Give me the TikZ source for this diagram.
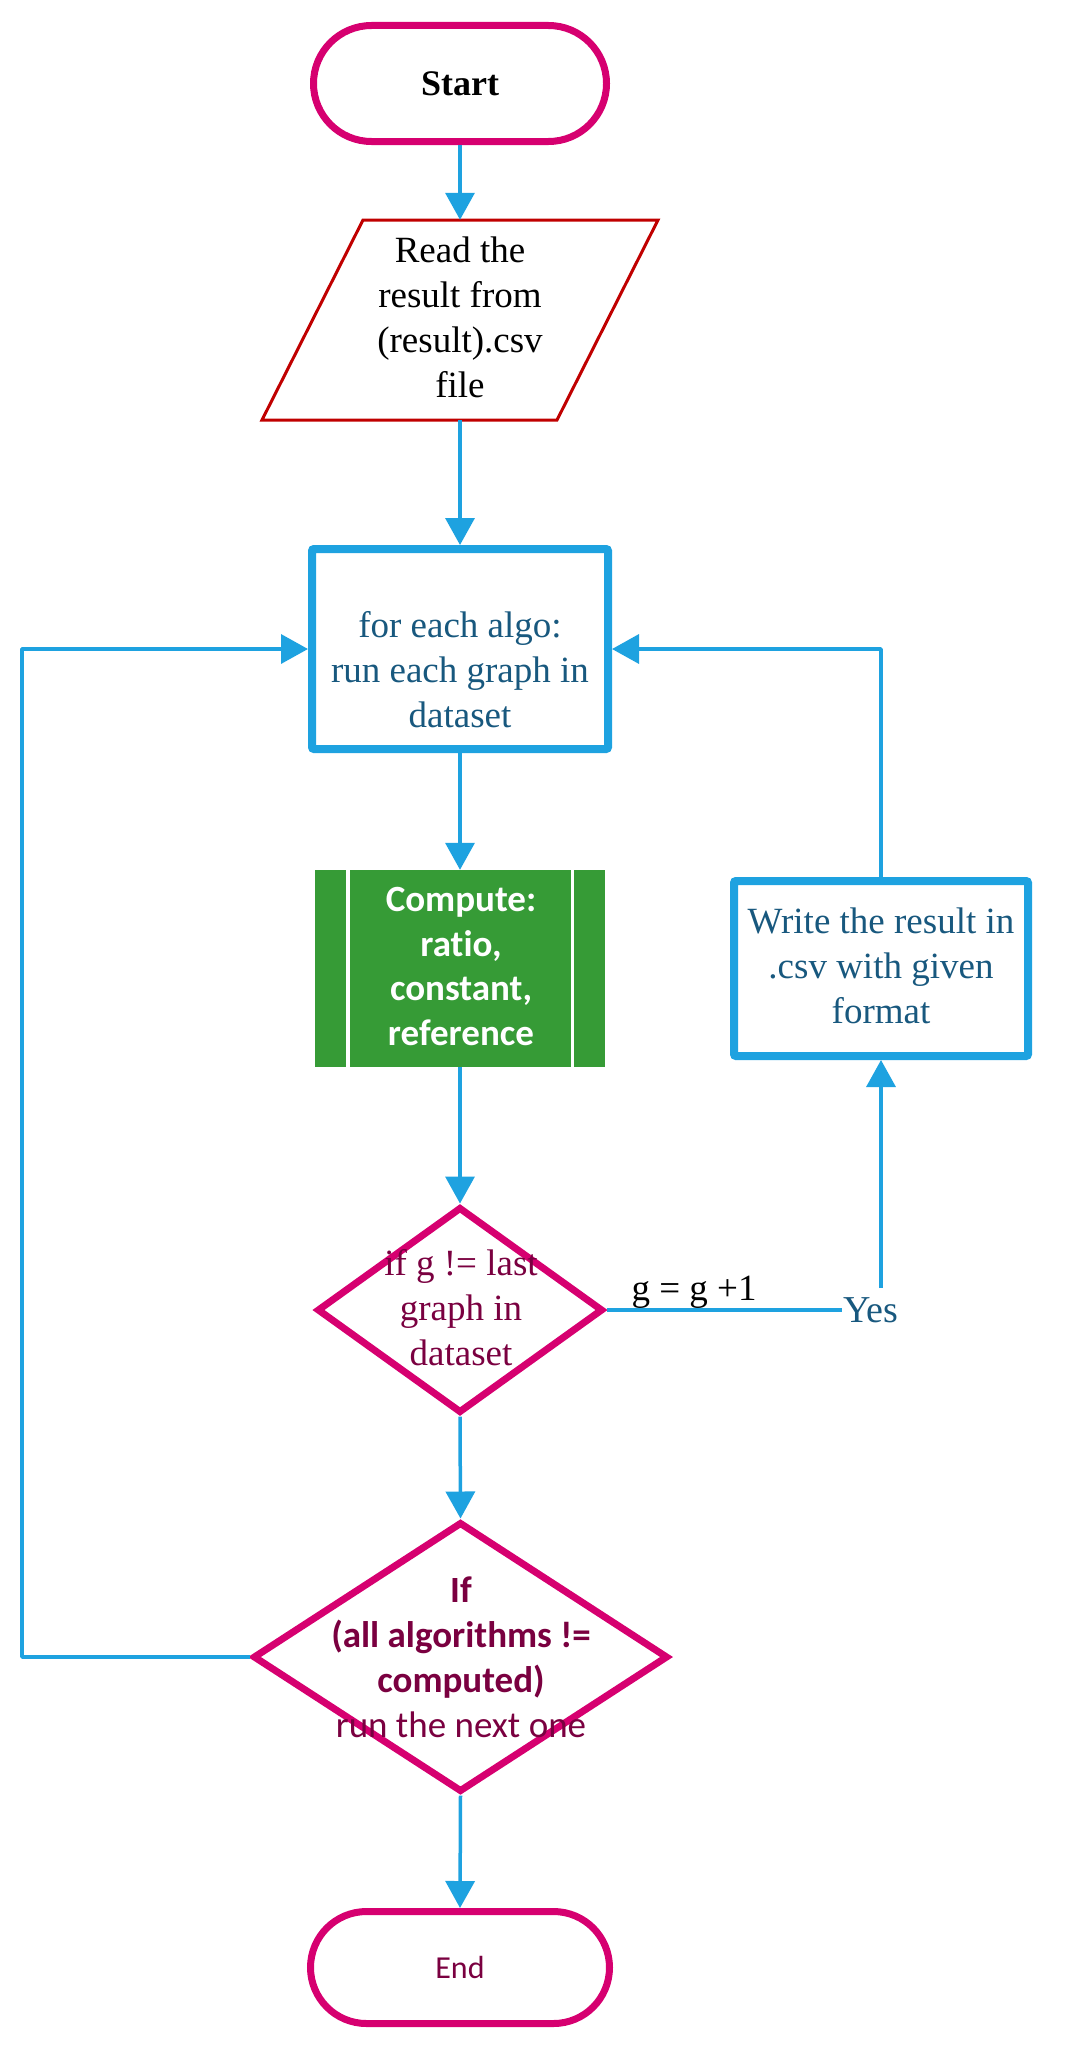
\documentclass[tikz,border=0pt]{standalone}
\usepackage{fontspec}
\setmainfont{Liberation Serif}
\newfontfamily\calib[Ligatures=NoCommon]{Carlito}
\usetikzlibrary{shapes.geometric,arrows.meta,calc}
\definecolor{mag}{RGB}{214,0,112}
\definecolor{blu}{RGB}{30,162,224}
\definecolor{dblue}{RGB}{24,88,126}
\definecolor{maroon}{RGB}{122,0,64}
\definecolor{grn}{RGB}{54,155,54}
\definecolor{darkred}{RGB}{192,0,0}
\tikzset{
  term/.style={draw=mag, line width=7pt, rounded corners=58pt, minimum width=293pt, minimum height=116pt, inner sep=0pt},
  procbox/.style={draw=blu, line width=8pt, rounded corners=2pt, inner sep=0pt},
  dec/.style={diamond, draw=mag, line width=7pt, inner sep=0pt},
  txt/.style={inner sep=0pt, align=center, font=\fontsize{37pt}{44.7pt}\selectfont},
  ctxt/.style={inner sep=0pt, align=center, font={\calib\fontsize{37pt}{44.7pt}\selectfont}},
  conn/.style={blu, line width=3.5pt, line join=round},
  arr/.style={conn, -{Triangle[width=29pt,length=27pt]}}
}
\begin{document}
\begin{tikzpicture}[x=1pt,y=-1pt]
\useasboundingbox (0,0) rectangle (1065,2050);
% Start
\node[term, font={\fontsize{36pt}{44pt}\selectfont\bfseries}] (start) at (460,83.5) {Start};
% Read (parallelogram)
\node[inner sep=0pt, minimum width=295pt, minimum height=200pt] (read) at (460,320) {};
\draw[darkred, line width=3pt, line join=miter] (363,220) -- (658,220) -- (557,420) -- (262,420) -- cycle;
\node[txt, anchor=base] (readtxt) at (460,397) {Read the\\result from\\(result).csv\\file};
% for each
\node[procbox, minimum width=296pt, minimum height=200pt] (for) at (460,649) {};
\node[txt, text=dblue, anchor=base] (fortxt) at (460,727) {for each algo:\\run each graph in\\dataset};
% compute
\node[fill=grn, minimum width=290pt, minimum height=197pt, inner sep=0pt] (comp) at (460,968.5) {};
\draw[white, line width=3.5pt] (348,870) -- (348,1067) (572.7,870) -- (572.7,1067);
\node[ctxt, font={\calib\bfseries\fontsize{37pt}{44.5pt}\selectfont}, text=white, anchor=base] (comptxt) at (461,1045) {Compute:\\ratio,\\constant,\\reference};
% decision 1
\node[dec, minimum width=286pt, minimum height=206pt] (d1) at (460,1310) {};
\node[txt, text=maroon, anchor=base] (d1txt) at (461,1365) {if g != last\\graph in\\dataset};
% write
\node[procbox, minimum width=294pt, minimum height=175pt] (write) at (881,968.5) {};
\node[txt, text=dblue, anchor=base] (writetxt) at (881,1023) {Write the result in\\.csv with given\\format};
% labels
\node[txt, anchor=base] (gtxt) at (694,1300) {g = g +1};
\node[txt, text=dblue, anchor=base west, inner sep=1pt, font={\fontsize{38pt}{45pt}\selectfont}] (yes) at (842,1322) {Yes};
\coordinate (ystart) at (881,1288);
% decision 2
\node[dec, minimum width=415pt, minimum height=270pt] (d2) at (460.5,1657) {};
\node[ctxt, text=maroon, anchor=base, font={\calib\fontsize{37pt}{45pt}\selectfont}] (d2txt) at (461,1737) {\textbf{If}\\\textbf{(all algorithms !=}\\\textbf{computed)}\\run the next one};
% End
\node[term, minimum width=299pt, minimum height=112pt, rounded corners=56pt, text=maroon, font={\calib\fontsize{32pt}{40pt}\selectfont}] (end) at (460,1967.5) {End};
\coordinate (loopL) at (22,649);
% connectors
\draw[arr] (start.south) -- (read.north);
\draw[arr] (read.south) -- (for.north);
\draw[arr] (for.south) -- (comp.north);
\draw[arr] (comp.south) -- (d1.north);
\draw[arr] (d1.south) -- (d2.north);
\draw[arr] (d2.south) -- (end.north);
\draw[conn] (d1.east) -- (d1.east -| yes.west);
\draw[arr] (ystart) -- (write.south);
\draw[arr] (write.north) |- (for.east);
\draw[arr] (d2.west) -| (loopL) -- (for.west);
\end{tikzpicture}
\end{document}
